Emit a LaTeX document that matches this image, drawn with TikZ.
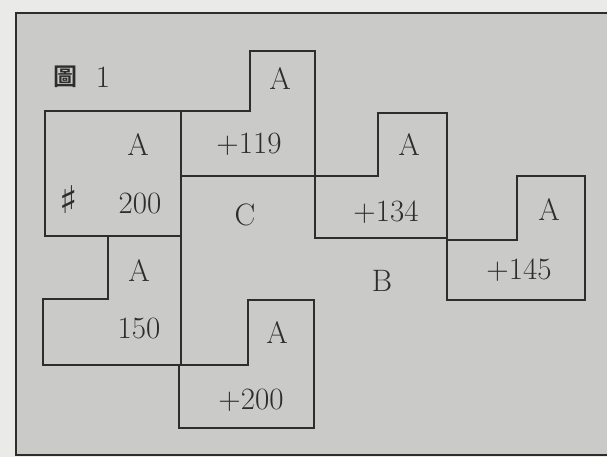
\documentclass[tikz,border=0pt]{standalone}
\usepackage{fontspec}
\newfontfamily\cjkfont{Noto Sans CJK TC Bold}
\newfontfamily\symfont{DejaVu Sans}
\definecolor{paper}{RGB}{234,234,232}
\definecolor{board}{RGB}{202,202,200}
\definecolor{ink}{RGB}{45,45,45}

\begin{document}
\begin{tikzpicture}
  [x=0.5pt,y=-0.5pt,line width=1.3pt,line join=miter,
   every node/.style={text=ink,inner sep=0pt,font=\fontsize{15.5}{18}\selectfont},
   piece/.style={draw=ink}]
  \useasboundingbox (0,0) rectangle (607,457);
  \clip (0,0) rectangle (607,457);
  \fill[paper] (0,0) rectangle (607,457);
  \filldraw[fill=board,draw=ink] (16,13) rectangle (640,455);

  % pieces
  \draw[piece] (45,111) rectangle (181,236);
  \draw[piece] (181,111) -- (250,111) -- (250,51) -- (315,51) -- (315,176) -- (181,176);
  \draw[piece] (315,176) -- (378,176) -- (378,113) -- (447,113) -- (447,238) -- (315,238) -- cycle;
  \draw[piece] (447,240) -- (517,240) -- (517,176) -- (585,176) -- (585,300) -- (447,300) -- cycle;
  \draw[piece] (108,236) -- (181,236) -- (181,365) -- (43,365) -- (43,299) -- (108,299) -- cycle;
  \draw[piece] (248,300) -- (314,300) -- (314,428) -- (179,428) -- (179,365) -- (248,365) -- cycle;

  % labels
  \node (fig) at (66,77) {\cjkfont\fontsize{12}{12}\selectfont 圖};
  \node (fignum) at (103,77) {1};
  \node (a1) at (138,145) {A};
  \node (sharp) at (69,200) {\symfont\fontsize{19}{19}\selectfont ♯};
  \node (n200) at (140,203) {200};
  \node (a2) at (280,79) {A};
  \node (n119) at (249,144) {+119};
  \node (c) at (245,215) {C};
  \node (a3) at (409,145) {A};
  \node (n134) at (386,212) {+134};
  \node (a4) at (549,210) {A};
  \node (n145) at (519,270) {+145};
  \node (b) at (382,281) {B};
  \node (a5) at (139,271) {A};
  \node (n150) at (139,328) {150};
  \node (a6) at (277,333) {A};
  \node (n200b) at (251,400) {+200};
\end{tikzpicture}
\end{document}
